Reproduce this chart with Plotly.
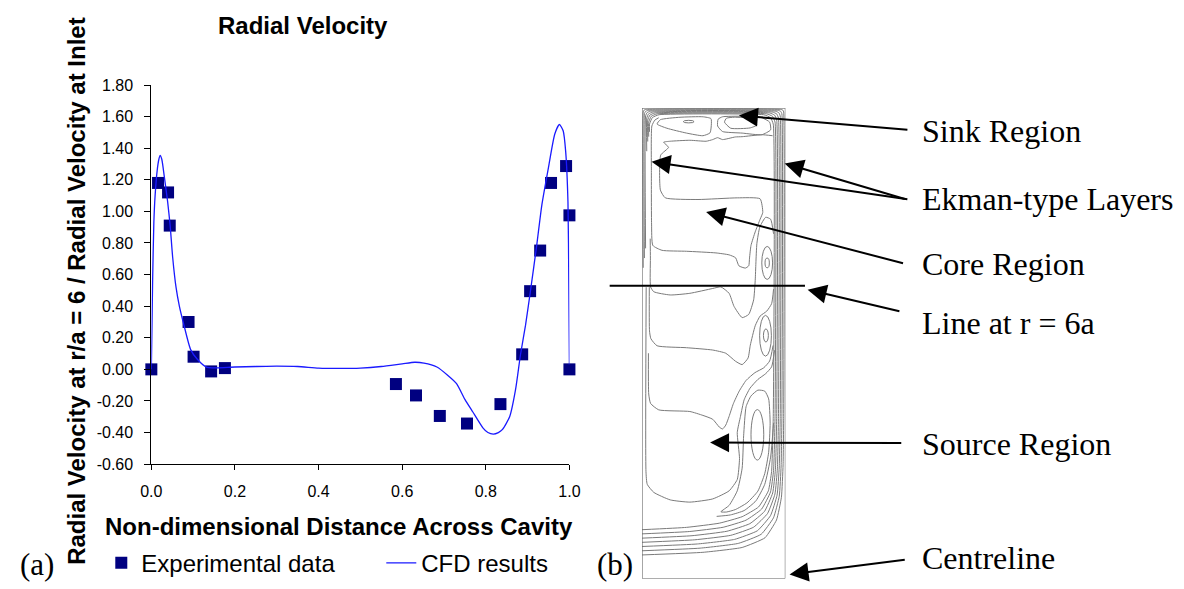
import plotly.graph_objects as go

W, H = 1184, 589

# ---------------- panel (a) data ----------------
exp_x = [0.0, 0.016, 0.04, 0.044, 0.089, 0.101, 0.143, 0.176, 0.585, 0.633, 0.69, 0.755,
         0.835, 0.887, 0.906, 0.93, 0.956, 0.992, 1.0, 1.0]
exp_y = [0.0, 1.18, 1.12, 0.91, 0.30, 0.08, -0.013, 0.008, -0.093, -0.165, -0.295, -0.343,
         -0.22, 0.095, 0.495, 0.752, 1.18, 1.287, 0.975, 0.0]

cfd_x = [0.0, 0.003, 0.006, 0.009, 0.014, 0.018, 0.021, 0.025, 0.031, 0.039, 0.045, 0.051,
         0.059, 0.067, 0.078, 0.094, 0.11, 0.133, 0.157, 0.2, 0.25, 0.3, 0.35, 0.4, 0.45,
         0.5, 0.55, 0.6, 0.63, 0.652, 0.683, 0.71, 0.73, 0.75, 0.769, 0.793, 0.805, 0.818,
         0.83, 0.84, 0.857, 0.871, 0.883, 0.895, 0.907, 0.922, 0.934, 0.95, 0.965, 0.976,
         0.985, 0.991, 0.9965, 0.9985, 1.0]
cfd_y = [0.0, 0.55, 0.93, 1.10, 1.26, 1.33, 1.355, 1.33, 1.22, 1.06, 0.91, 0.71,
         0.52, 0.40, 0.28, 0.125, 0.064, 0.012, 0.01, 0.015, 0.018, 0.02, 0.018, 0.008, 0.006,
         0.008, 0.018, 0.035, 0.045, 0.04, 0.015, -0.04, -0.09, -0.19, -0.27, -0.37, -0.40, -0.41,
         -0.40, -0.38, -0.30, -0.13, 0.094, 0.28, 0.50, 0.79, 1.04, 1.28, 1.49, 1.55,
         1.51, 1.38, 1.06, 0.55, 0.03]

x_ticks = [0.0, 0.2, 0.4, 0.6, 0.8, 1.0]
y_ticks = [-0.6, -0.4, -0.2, 0.0, 0.2, 0.4, 0.6, 0.8, 1.0, 1.2, 1.4, 1.6, 1.8]

# ---------------- panel (b) data (cavity contour sketch, units ~ cavity px) ----------------
cav_w, cav_h = 146.0, 484.5

loop_bottom_x = [
    [0, 62.0, 102.0, 125.3, 137.0, 142.0, 143.7, 144.3],
    [0, 59.2, 98.1, 121.4, 133.9, 139.8, 141.7, 142.5],
    [0, 56.4, 94.2, 117.5, 130.9, 137.6, 139.8, 140.8],
    [0, 53.7, 90.4, 113.7, 127.9, 135.4, 137.9, 139.0],
    [0, 50.9, 86.5, 109.8, 124.8, 133.1, 135.9, 137.2],
    [0, 48.1, 82.6, 105.9, 121.8, 130.9, 134.0, 135.5],
    [0, 45.3, 78.7, 102.0, 118.7, 128.7, 132.0, 133.7],
]
loop_bottom_y = [
    [24.3, 27.0, 32.0, 42.0, 60.3, 83.7, 117.0, 167],
    [28.6, 31.3, 36.2, 45.6, 62.5, 84.8, 115.9, 167],
    [33.0, 35.6, 40.3, 49.2, 64.8, 85.9, 114.8, 167],
    [37.3, 39.9, 44.5, 52.9, 67.0, 87.0, 113.7, 167],
    [41.6, 44.1, 48.7, 56.5, 69.2, 88.1, 112.5, 167],
    [46.0, 48.4, 52.8, 60.1, 71.5, 89.2, 111.4, 167],
    [50.3, 52.7, 57.0, 63.7, 73.7, 90.3, 110.3, 167],
]
loop_left_x = [1.2, 2.4, 3.6, 4.8, 5.8, 6.8, 7.6]
loop_left_end_y = [320, 330, 340, 440, 450, 455, 460]
loop_top_y = [483.0, 482.1, 481.2, 480.3, 479.4, 478.5, 477.6]

core_lines = {
    "z1": ([133, 122, 102, 95, 82, 77, 72, 65.3, 48.7, 28.7, 22, 27, 19, 18.7, 23.7, 57, 97, 120.3,
            123, 120.3, 115.3, 111, 109.5, 108.7, 105.3, 98.7, 95.3, 88.7, 75.3, 45.3, 20.3, 11,
            9.7, 9.5, 10, 13, 17],
           [456, 457, 455, 454.7, 452, 454, 452, 450.3, 451.3, 450.3, 449.3, 444, 436, 400, 392,
            390.3, 392, 391, 377, 370, 357, 343, 330, 322, 319.7, 322, 330.3, 333.3, 335.3, 337,
            338, 343, 365, 420, 466, 472, 474.5]),
    "z2": ([8.3, 8.5, 8.7, 12, 28.7, 48.7, 72, 80.3, 88.7, 93.7, 102, 108.7, 113.7, 115.3, 116,
            117, 120, 126, 131, 134],
           [350, 330, 300.3, 295.3, 292, 293.7, 298.7, 300.3, 293.7, 280.3, 268.7, 272, 287, 307,
            325, 345, 362, 372, 370, 355]),
    "z3": ([7.4, 7.6, 9, 15.3, 45.3, 72, 85.3, 95.3, 102, 108, 110.3, 115.3, 120.3, 127, 132, 134],
           [300, 255, 247, 239.7, 237.7, 235.3, 232, 223.7, 220.3, 227, 240.3, 260.3, 270.3, 275.3,
            283, 298]),
    "z4": ([6.5, 6.8, 8.7, 17, 48.7, 62, 72, 78.7, 82, 85.3, 88.7, 93, 99, 106, 115, 124, 130, 133.5],
           [232, 190, 180.3, 173.7, 172, 168, 164, 156, 154, 158, 167, 180, 193, 204, 212, 217, 224,
            240]),
    "z5": ([4.2, 4.0, 5.3, 12, 28.7, 48.7, 72, 88.7, 97, 99.3, 97, 100.3, 104, 110, 118, 126, 132, 135],
           [300, 110, 97, 88.7, 81, 78.7, 82, 90.3, 102, 123.7, 150.3, 167, 184, 196, 205, 211, 218,
            235]),
    "hook": ([80.3, 88.7, 97, 102, 103.5, 106, 111, 118, 125, 129, 130.5, 129, 125, 118, 107, 95, 86,
              80.3],
             [68.7, 75.3, 90.3, 113.7, 147, 177, 188, 194, 193, 185, 160, 130, 108, 90, 78, 71, 68.5,
              68.7]),
    "hook_outer": ([76, 90, 104, 116, 125, 131, 134],
                   [64, 65.5, 70, 80, 97, 125, 160]),
    "sink_left": ([15.3, 18.7, 38.7, 62, 70.3, 69.3, 62, 45.3, 25.3, 15.3],
                  [468, 472.5, 475, 475.5, 473.5, 459, 456, 458.7, 463.7, 468]),
    "sink_right": ([77, 77.5, 82, 102, 122, 130, 131, 122, 102, 82, 77],
                   [466, 473, 475.5, 476, 474.5, 470, 462, 457, 458.7, 460.3, 466]),
    "sink_right_in": ([84, 86, 94, 113, 117, 110, 90.3, 84],
                      [470, 474, 475, 473.5, 467, 464, 463.7, 470]),
}

# small closed cells: centre x, centre y, half-width, half-height
cell_cx = [47.5, 127.5, 127.5, 126.2, 125.8, 117.5]
cell_cy = [470.5, 325.0, 325.0, 250.3, 250.0, 148.0]
cell_rx = [5.5, 2.2, 5.5, 2.5, 6.0, 6.5]
cell_ry = [1.3, 5.0, 17.0, 6.7, 21.0, 26.0]

label_texts = ["Sink Region", "Ekman-type Layers", "Core Region", "Line at r = 6a",
               "Source Region", "Centreline"]

# ---------------- figure ----------------
ARIAL = "Liberation Sans, Arial, sans-serif"
TIMES = "Liberation Serif, Times New Roman, serif"
CONT = "#7a7a7a"

fig = go.Figure()

fig.add_trace(go.Scatter(
    x=exp_x, y=exp_y, mode="markers", name="Experimental data",
    marker=dict(symbol="square", size=12, color="#000080"),
    cliponaxis=False, xaxis="x", yaxis="y"))
fig.add_trace(go.Scatter(
    x=cfd_x, y=cfd_y, mode="lines", name="CFD results",
    line=dict(color="#1a1aff", width=1.3, shape="spline", smoothing=0.6),
    xaxis="x", yaxis="y"))

# cavity wall-hugging contour loops
for i in range(len(loop_bottom_x)):
    L = loop_left_x[i]
    T = loop_top_y[i]
    R = loop_bottom_x[i][-1]
    rc = 2.5 + 1.2 * i
    xs = list(loop_bottom_x[i]) + [R, R - 0.3 * rc, R - rc, L + rc, L + 0.3 * rc, L, L]
    ys = list(loop_bottom_y[i]) + [T - rc, T - 0.3 * rc, T, T, T - 0.3 * rc, T - rc,
                                   loop_left_end_y[i]]
    fig.add_trace(go.Scatter(x=xs, y=ys, mode="lines", showlegend=False, hoverinfo="skip",
                             line=dict(color=CONT, width=1, shape="spline", smoothing=0.4),
                             xaxis="x2", yaxis="y2"))

for key, (xs, ys) in core_lines.items():
    fig.add_trace(go.Scatter(x=xs, y=ys, mode="lines", showlegend=False, hoverinfo="skip",
                             line=dict(color=CONT, width=1, shape="spline", smoothing=0.5),
                             xaxis="x2", yaxis="y2"))

shapes = []
for cx, cy, rx, ry in zip(cell_cx, cell_cy, cell_rx, cell_ry):
    shapes.append(dict(type="circle", xref="x2", yref="y2", x0=cx - rx, x1=cx + rx,
                       y0=cy - ry, y1=cy + ry, line=dict(color=CONT, width=1)))
# cavity outline
shapes.append(dict(type="rect", xref="x2", yref="y2", x0=0, x1=cav_w, y0=0, y1=cav_h,
                   line=dict(color="#555555", width=1)))


def px(x):
    return x / W


def py(y):
    return 1 - y / H


# line at r = 6a
shapes.append(dict(type="line", xref="paper", yref="paper", x0=px(610), x1=px(809),
                   y0=py(286), y1=py(286), line=dict(color="black", width=2)))

annotations = []
# arrows (tip x, tip y, tail x, tail y) in pixels
arrow_geo = [(741.7, 110.7, 911.7, 125.0),
             (652.7, 158.3, 910.0, 196.0),
             (788.3, 160.0, 910.0, 196.0),
             (708.3, 210.0, 906.7, 261.7),
             (811.7, 290.0, 905.0, 312.0),
             (712.3, 447.5, 905.0, 448.0),
             (793.3, 583.3, 910.0, 568.3)]
for tx, ty, sx, sy in arrow_geo:
    annotations.append(dict(x=px(tx), y=py(ty), xref="paper", yref="paper", text="",
                            showarrow=True, arrowhead=2, arrowsize=1.9, arrowwidth=2,
                            arrowcolor="black", ax=sx - tx, ay=sy - ty, standoff=0))

label_y = [126.7, 196.7, 264, 324, 449, 566]
for txt, ly in zip(label_texts, label_y):
    annotations.append(dict(x=px(926), y=py(ly), xref="paper", yref="paper", text=txt,
                            showarrow=False, xanchor="left", yanchor="middle",
                            font=dict(family=TIMES, size=32, color="black")))

annotations += [
    dict(x=px(27), y=py(573), xref="paper", yref="paper", text="(a)", showarrow=False,
         xanchor="center", yanchor="middle", font=dict(family=TIMES, size=31, color="black")),
    dict(x=px(615), y=py(573), xref="paper", yref="paper", text="(b)", showarrow=False,
         xanchor="center", yanchor="middle", font=dict(family=TIMES, size=31, color="black")),
    dict(x=px(298), y=py(18), xref="paper", yref="paper", text="<b>Radial Velocity</b>",
         showarrow=False, xanchor="center", yanchor="middle",
         font=dict(family=ARIAL, size=24, color="black")),
    dict(x=px(334), y=py(534), xref="paper", yref="paper",
         text="<b>Non-dimensional Distance Across Cavity</b>", showarrow=False,
         xanchor="center", yanchor="middle", font=dict(family=ARIAL, size=24, color="black")),
    dict(x=px(66), y=py(291.5), xref="paper", yref="paper", textangle=-90,
         text="<b>Radial Velocity at r/a = 6 / Radial Velocity at Inlet</b>", showarrow=False,
         xanchor="center", yanchor="middle", font=dict(family=ARIAL, size=24, color="black")),
]

fig.update_layout(
    width=W, height=H, margin=dict(l=0, r=0, t=0, b=0),
    paper_bgcolor="white", plot_bgcolor="white",
    font=dict(family=ARIAL, color="black"),
    showlegend=True,
    legend=dict(orientation="h", x=px(92), y=py(571.7), xanchor="left", yanchor="middle",
                font=dict(family=ARIAL, size=24, color="black"), bgcolor="rgba(0,0,0,0)",
                entrywidth=235, entrywidthmode="pixels", itemwidth=30),
    xaxis=dict(domain=[px(143), px(569)], range=[0, 1], tickvals=x_ticks,
               ticktext=[f"{v:.1f}" for v in x_ticks], showgrid=False, zeroline=False,
               showline=True, linecolor="black", linewidth=1, ticks="outside", ticklen=5,
               tickcolor="black", tickfont=dict(family=ARIAL, size=16, color="black"),
               ticklabelstandoff=8, anchor="y"),
    yaxis=dict(domain=[py(469.7), py(79.3)], range=[-0.6, 1.8], tickvals=y_ticks,
               ticktext=[f"{v:.2f}" for v in y_ticks], showgrid=False, zeroline=False,
               showline=True, linecolor="black", linewidth=1, ticks="outside", ticklen=6,
               tickcolor="black", tickfont=dict(family=ARIAL, size=16, color="black"),
               ticklabelstandoff=8, anchor="x"),
    xaxis2=dict(domain=[px(643), px(789)], range=[0, cav_w], visible=False, anchor="y2"),
    yaxis2=dict(domain=[py(587.5), py(103)], range=[0, cav_h], visible=False, anchor="x2"),
    shapes=shapes, annotations=annotations,
)

fig.write_html("out.html", config={"displayModeBar": False},
               post_script="document.body.style.margin='0px';"
                           "document.body.style.overflow='hidden';")
